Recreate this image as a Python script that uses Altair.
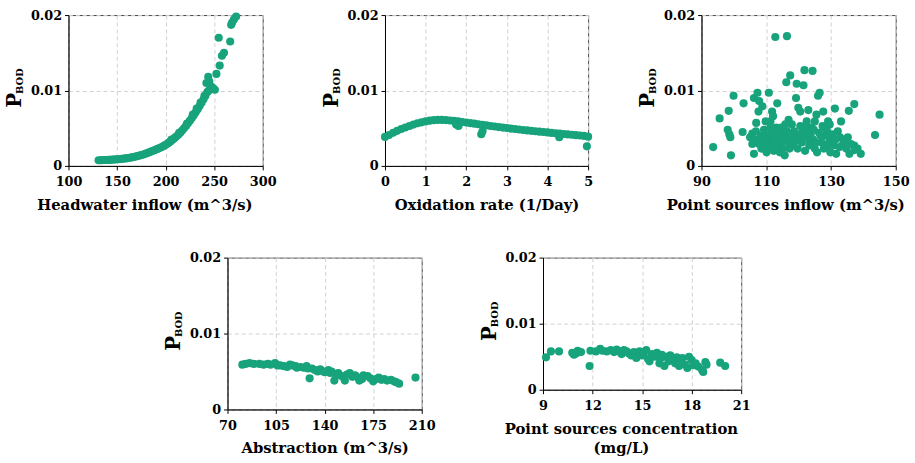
import altair as alt
import pandas as pd

GREEN = "#17a37b"
FONT = "DejaVu Serif"

# ---------------- data ----------------
# Headwater inflow (m^3/s) vs P_BOD
hw_x = [131, 133, 135, 137, 139, 141, 143, 145, 147, 149, 151, 153, 155, 157, 159,
        161, 163, 165, 167, 169, 171, 173, 175, 177, 179, 181, 183, 185, 187, 189,
        191, 193, 195, 197, 199, 201, 203, 205, 207, 209, 211, 213, 215, 217, 219,
        221, 223, 225, 227, 229, 231, 233, 235, 237, 239, 241, 243, 244.5,
        206, 214, 222, 228, 232, 236, 240, 242,
        243.9, 245, 247.2, 249, 250.7, 252.3, 254.7, 255.7, 258, 260.1, 266.5,
        267.5, 268.5, 270.3, 272.6]
hw_p = [0.00075, 0.00076, 0.00077, 0.00078, 0.00079, 0.0008, 0.00081, 0.00083, 0.00085,
        0.00087, 0.00089, 0.00091, 0.00094, 0.00097, 0.001, 0.00104, 0.00108, 0.00113,
        0.00118, 0.00124, 0.0013, 0.00137, 0.00144, 0.00152, 0.0016, 0.0017, 0.0018,
        0.0019, 0.002, 0.00211, 0.00222, 0.00233, 0.00245, 0.00258, 0.00272, 0.00287,
        0.00305, 0.00325, 0.00346, 0.00368, 0.0039, 0.00414, 0.0044, 0.00468, 0.00498,
        0.0053, 0.00565, 0.006, 0.00636, 0.00673, 0.00712, 0.00752, 0.00794, 0.00838,
        0.00884, 0.00932, 0.0098, 0.01,
        0.0035, 0.0044, 0.0056, 0.0068, 0.0076, 0.0084, 0.0093, 0.011,
        0.0118, 0.0112, 0.0105, 0.0103, 0.0101, 0.0122, 0.017, 0.0133, 0.0146, 0.015,
        0.0165, 0.0187, 0.019, 0.0194, 0.0198]

# Oxidation rate (1/Day) vs P_BOD
ox_x = [0.0, 0.1, 0.2, 0.3, 0.4, 0.5, 0.6, 0.7, 0.8, 0.9, 1.0, 1.1, 1.2, 1.3, 1.4,
        1.5, 1.6, 1.7, 1.8, 1.9, 2.0, 2.1, 2.2, 2.3, 2.4, 2.5, 2.6, 2.7, 2.8, 2.9,
        3.0, 3.1, 3.2, 3.3, 3.4, 3.5, 3.6, 3.7, 3.8, 3.9, 4.0, 4.1, 4.2, 4.3, 4.4,
        4.5, 4.6, 4.7, 4.8, 4.9, 5.0,
        1.75, 1.81, 2.37, 2.4, 4.29, 4.97]
ox_p = [0.00385, 0.0041, 0.0044, 0.00465, 0.0049, 0.0051, 0.0053, 0.00548, 0.00565,
        0.00578, 0.0059, 0.006, 0.00607, 0.0061, 0.0061, 0.00608, 0.00603, 0.00597,
        0.0059, 0.00582, 0.00575, 0.00567, 0.0056, 0.00552, 0.00545, 0.00537, 0.0053,
        0.00522, 0.00515, 0.00508, 0.00502, 0.00495, 0.00489, 0.00483, 0.00477,
        0.00471, 0.00465, 0.0046, 0.00454, 0.00449, 0.00444, 0.00438, 0.00433,
        0.00428, 0.00423, 0.00418, 0.00413, 0.00408, 0.00403, 0.00398, 0.00388,
        0.0055, 0.0053, 0.0042, 0.0046, 0.0038, 0.0026]

# Point sources inflow (m^3/s) vs P_BOD
ps_x = [93.6, 95.6, 98.4, 98.1, 98.6, 99.1, 98.9, 99.9, 102.7, 103.0, 105.0, 105.7,
        106.2, 106.2, 106.9, 107.3, 107.6, 107.8, 108.3, 108.8, 109.3, 109.8, 110.8,
        110.3, 111.3, 111.8, 111.5, 112.1, 112.8, 112.3, 113.4, 113.1, 113.6, 114.4,
        114.9, 115.4, 115.7, 116.2, 116.4, 116.9, 117.4, 117.9, 118.4, 119.2, 119.4,
        119.9, 119.4, 120.5, 121.5, 121.8, 122.5, 123.0, 123.5, 124.0, 124.3, 125.0,
        125.5, 126.0, 126.5, 126.8, 127.6, 128.1, 128.6, 129.1, 130.1, 131.2, 131.6,
        132.1, 133.1, 133.7, 135.2, 135.5, 135.7, 137.2, 137.2, 138.2, 139.2, 143.6,
        145.0,
        106.8, 107.3, 107.8, 108.5, 109.1, 109.5, 110.1, 110.5, 111.1, 111.8, 112.5,
        112.8, 113.9, 114.2, 114.6, 115.2, 115.9, 116.4, 116.9, 117.2, 117.9, 118.6,
        118.9, 119.7, 120.3, 121.0, 121.2, 122.0, 122.3, 122.7, 123.3, 123.7, 124.5,
        124.7, 125.3, 125.7, 126.3, 127.1, 127.4, 127.8, 128.4, 128.8, 129.4, 129.8,
        130.4, 130.8, 131.4, 132.6, 132.8, 134.1, 134.7, 136.2, 137.2, 106.2, 105.7,
        111.3, 117.4, 120.5, 125.0, 129.6, 122.0, 115.9, 109.8]
ps_p = [0.0025, 0.0063, 0.0073, 0.0048, 0.0042, 0.0014, 0.0038, 0.0093, 0.0045, 0.0083,
        0.0038, 0.0043, 0.0016, 0.0090, 0.0057, 0.0097, 0.0072, 0.0086, 0.0040, 0.0079,
        0.0048, 0.0031, 0.0097, 0.0025, 0.0059, 0.0072, 0.0042, 0.0066, 0.0171, 0.0020,
        0.0083, 0.0051, 0.0033, 0.0025, 0.0044, 0.0033, 0.0014, 0.0111, 0.0172, 0.0061,
        0.0120, 0.0055, 0.0027, 0.0090, 0.0109, 0.0077, 0.0042, 0.0072, 0.0107, 0.0127,
        0.0059, 0.0074, 0.0033, 0.0051, 0.0126, 0.0023, 0.0068, 0.0093, 0.0097, 0.0040,
        0.0072, 0.0051, 0.0025, 0.0059, 0.0038, 0.0076, 0.0016, 0.0046, 0.0059, 0.0029,
        0.0038, 0.0073, 0.0016, 0.0082, 0.0027, 0.0023, 0.0016, 0.0041, 0.0068,
        0.0046, 0.0035, 0.0029, 0.0023, 0.0033, 0.0042, 0.0018, 0.0035, 0.0027, 0.0035,
        0.0046, 0.0029, 0.0040, 0.0018, 0.0051, 0.0023, 0.0038, 0.0046, 0.0031, 0.0023,
        0.0040, 0.0046, 0.0033, 0.0023, 0.0040, 0.0031, 0.0046, 0.0020, 0.0038, 0.0046,
        0.0027, 0.0042, 0.0035, 0.0048, 0.0031, 0.0018, 0.0044, 0.0031, 0.0053, 0.0023,
        0.0040, 0.0046, 0.0031, 0.0018, 0.0042, 0.0027, 0.0035, 0.0025, 0.0038, 0.0033,
        0.0023, 0.0029, 0.0021, 0.0035, 0.0029, 0.0051, 0.0042, 0.0053, 0.0059, 0.0055,
        0.0053, 0.0055, 0.0059]

# Abstraction (m^3/s) vs P_BOD
ab_x = [80.7, 83, 85.9, 89, 93, 96, 99, 101, 104.3, 106, 108, 110.7, 113, 115, 116.7,
        119, 120, 122.6, 125, 127, 128, 129.2, 130.9, 133, 135, 136.8, 138, 140, 142.7,
        144, 145, 147, 148, 149.8, 151, 153, 154.6, 156, 158.1, 160, 162, 164, 165, 167,
        168, 171, 173, 175, 177.1, 179, 181, 183, 185, 187.8, 190, 191.5, 193.7, 205.5]
ab_p = [0.0059, 0.0060, 0.0061, 0.0060, 0.0060, 0.0059, 0.0060, 0.0059, 0.0061, 0.0058,
        0.0058, 0.0057, 0.0056, 0.0059, 0.0058, 0.0057, 0.0055, 0.0056, 0.0055, 0.0057,
        0.0054, 0.0041, 0.0054, 0.0052, 0.0050, 0.0053, 0.0051, 0.0049, 0.0052, 0.0048,
        0.0050, 0.0038, 0.0046, 0.0048, 0.0045, 0.0043, 0.0038, 0.0046, 0.0048, 0.0043,
        0.0045, 0.0042, 0.0038, 0.0040, 0.0045, 0.0044, 0.0041, 0.0037, 0.0040, 0.0042,
        0.0039, 0.0040, 0.0038, 0.0039, 0.0037, 0.0036, 0.0034, 0.0042]

# Point sources concentration (mg/L) vs P_BOD
pc_x = [9.18, 9.48, 9.97, 10.77, 10.87, 11.0, 11.1, 11.3, 11.82, 11.87, 12.2, 12.46,
        12.6, 12.86, 13.1, 13.3, 13.46, 13.6, 13.76, 13.9, 14.06, 14.2, 14.35, 14.5,
        14.65, 14.85, 15.0, 15.1, 15.25, 15.35, 15.45, 15.6, 15.75, 15.9, 16.05, 16.1,
        16.2, 16.35, 16.45, 16.6, 16.7, 16.84, 17.0, 17.1, 17.24, 17.35, 17.44, 17.6,
        17.74, 17.84, 18.0, 18.1, 18.24, 18.4, 18.63, 18.7, 18.83, 18.9, 19.73, 20.03]
pc_p = [0.0049, 0.0058, 0.0058, 0.0056, 0.0053, 0.0055, 0.0059, 0.0057, 0.0036, 0.0059,
        0.0058, 0.0062, 0.0059, 0.0058, 0.0060, 0.0057, 0.0061, 0.0058, 0.0054, 0.0060,
        0.0058, 0.0055, 0.0052, 0.0057, 0.0048, 0.0058, 0.0052, 0.0055, 0.0060, 0.0047,
        0.0043, 0.0054, 0.0050, 0.0056, 0.0040, 0.0047, 0.0053, 0.0036, 0.0050, 0.0043,
        0.0052, 0.0045, 0.0040, 0.0049, 0.0036, 0.0043, 0.0048, 0.0038, 0.0033, 0.0050,
        0.0045, 0.0037, 0.0040, 0.0035, 0.0030, 0.0027, 0.0042, 0.0038, 0.0041, 0.0036]

Y_TICKS = [0, 0.01, 0.02]


def panel(xs, ys, xdom, xvals, xtitle, w, h, title_x=None):
    df = pd.DataFrame({"x": xs, "p": ys})
    axis_kw = dict(values=xvals, title=xtitle, labelPadding=6, titlePadding=9,
                   titleLineHeight=20)
    if title_x is not None:
        axis_kw["titleX"] = title_x
    pts = alt.Chart(df).mark_circle(size=68, color=GREEN, opacity=1).encode(
        x=alt.X("x:Q", scale=alt.Scale(domain=xdom, nice=False, zero=False),
                axis=alt.Axis(**axis_kw)),
        y=alt.Y("p:Q", scale=alt.Scale(domain=[0, 0.02], nice=False),
                axis=alt.Axis(values=Y_TICKS, format="~g", title=None, labelPadding=3)),
    )
    pc = h / 2 + 10
    p_txt = alt.Chart(pd.DataFrame({"t": ["P"]})).mark_text(
        text="P", angle=270, fontSize=20, font=FONT, fontWeight="bold",
        align="center", baseline="alphabetic", color="black"
    ).encode(x=alt.value(-48), y=alt.value(pc))
    sub_txt = alt.Chart(pd.DataFrame({"t": ["BOD"]})).mark_text(
        text="BOD", angle=270, fontSize=10, font=FONT, fontWeight="bold",
        align="center", baseline="alphabetic", color="black"
    ).encode(x=alt.value(-46), y=alt.value(pc - 19.5))
    return alt.layer(pts, p_txt, sub_txt).properties(width=w, height=h)


p1 = panel(hw_x, hw_p, [100, 300], [100, 150, 200, 250, 300],
           "Headwater inflow (m^3/s)", 197, 153, title_x=77)
p2 = panel(ox_x, ox_p, [0, 5], [0, 1, 2, 3, 4, 5],
           "Oxidation rate (1/Day)", 206, 153)
p3 = panel(ps_x, ps_p, [90, 150], [90, 110, 130, 150],
           "Point sources inflow (m^3/s)", 197, 153, title_x=85)
p4 = panel(ab_x, ab_p, [70, 210], [70, 105, 140, 175, 210],
           "Abstraction (m^3/s)", 197, 154)
p5 = panel(pc_x, pc_p, [9, 21], [9, 12, 15, 18, 21],
           ["Point sources concentration", "(mg/L)"], 201, 134, title_x=79)

top = alt.hconcat(p1, p2, p3, spacing=44)
bottom = alt.hconcat(p4, p5, spacing=43)

chart = alt.vconcat(top, bottom, spacing=38, center=True).properties(
    padding={"left": 4, "top": 5, "right": 5, "bottom": 2},
    background="white",
).configure_axis(
    labelFont=FONT, labelFontWeight="bold", labelFontSize=13, labelColor="black",
    titleFont=FONT, titleFontWeight="bold", titleFontSize=15, titleColor="black",
    domainColor="black", tickColor="black", tickSize=4,
    gridColor="#d0d0d0", gridDash=[4, 3], labelFlush=False, labelOverlap=False,
).configure_view(stroke="#444444")

chart.save("out.html", embed_options={"renderer": "svg", "actions": False})
